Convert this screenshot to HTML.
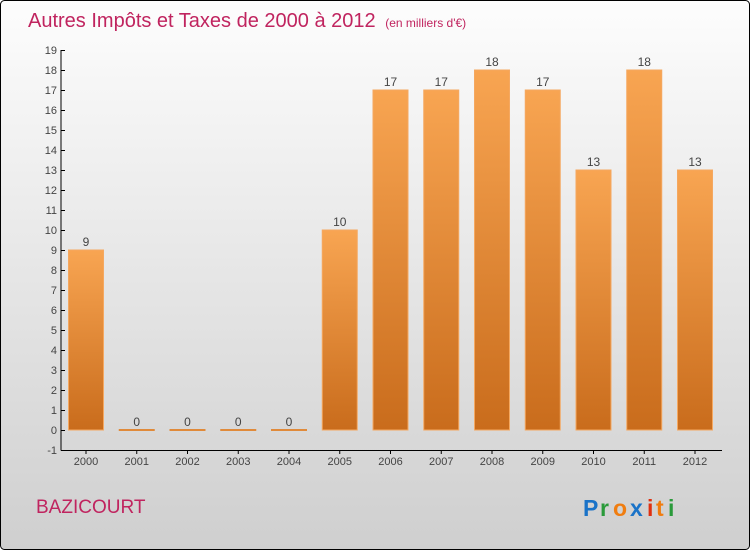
<!DOCTYPE html>
<html><head><meta charset="utf-8"><style>
body{margin:0;width:750px;height:550px;overflow:hidden}
</style></head><body>
<svg id="c" width="750" height="550" xmlns="http://www.w3.org/2000/svg" font-family="Liberation Sans, sans-serif">
<defs>
<linearGradient id="bg" x1="0" y1="0" x2="0" y2="1"><stop offset="0" stop-color="#fdfdfd"/><stop offset="1" stop-color="#cfcfcf"/></linearGradient>
<linearGradient id="bar" x1="0" y1="0" x2="0" y2="1"><stop offset="0" stop-color="#f8a552"/><stop offset="1" stop-color="#c96c1c"/></linearGradient>
</defs>
<rect x="0.5" y="0.5" width="749" height="549" rx="4" fill="url(#bg)" stroke="#000"/>
<text x="28" y="27" font-size="20" fill="#c0245f">Autres Impôts et Taxes de 2000 à 2012 <tspan font-size="12" dx="4">(en milliers d'€)</tspan></text>
<text x="36" y="513" font-size="19" fill="#c0245f">BAZICOURT</text>
<g font-size="23" font-weight="bold">
<text x="583" y="516" fill="#1a73c8">P</text><text x="600" y="516" fill="#2a9a3a">r</text><text x="613" y="516" fill="#f07d10">o</text><text x="630" y="516" fill="#1a73c8">x</text><text x="647" y="516" fill="#e03010">i</text><text x="656" y="516" fill="#f07d10">t</text><text x="668" y="516" fill="#2a9a3a">i</text>
</g>
<g id="axes"></g><g id="bars"></g>
</svg>
<script>
const categories=["2000","2001","2002","2003","2004","2005","2006","2007","2008","2009","2010","2011","2012"];
const values=[9,0,0,0,0,10,17,17,18,17,13,18,13];
const yTicks=[-1,0,1,2,3,4,5,6,7,8,9,10,11,12,13,14,15,16,17,18,19];
const NS="http://www.w3.org/2000/svg";
function y(v){return 430-20*v;}
function x(i){return 86+i*50.75;}
function mk(t,a,p){const e=document.createElementNS(NS,t);for(const k in a)e.setAttribute(k,a[k]);p.appendChild(e);return e;}
const ax=document.getElementById('axes'),bs=document.getElementById('bars');
let l=mk('line',{x1:61,y1:y(19),x2:61,y2:y(-1)+0.5,stroke:'#000'},ax);


l=mk('line',{x1:61,y1:y(-1)+0.5,x2:722,y2:y(-1)+0.5,stroke:'#000'},ax);


yTicks.forEach(v=>{
 mk('line',{x1:61,y1:y(v)+0.5,x2:65,y2:y(v)+0.5,stroke:'#000'},ax);
 const t=mk('text',{x:57,y:y(v)+4,'font-size':11,'text-anchor':'end',fill:'#444'},ax);
 t.textContent=v;
 
 
});
categories.forEach((c,i)=>{
 mk('line',{x1:x(i),y1:y(-1),x2:x(i),y2:y(-1)+4,stroke:'#000'},ax);
 const t=mk('text',{x:x(i),y:465,'font-size':11,'text-anchor':'middle',fill:'#444'},ax);
 t.textContent=c;
 
 
 const v=values[i],top=y(v),h=Math.max(y(0)-top,1);
 const r=mk('rect',{x:x(i)-17.5,y:v>0?top:y(0)-0.5,width:35,height:h,fill:'url(#bar)',stroke:v>0?'#f5a860':'#e08a3a','stroke-width':1},bs);
 
 
 const lb=mk('text',{x:x(i),y:top-4,'font-size':12,'text-anchor':'middle',fill:'#444'},bs);
 lb.textContent=v;
 
 
});
</script>
</body></html>
